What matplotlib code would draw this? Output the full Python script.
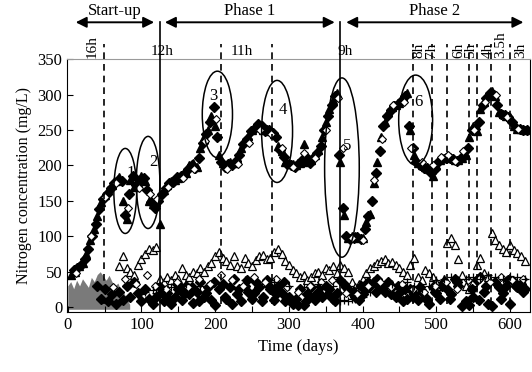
import numpy as np
import matplotlib as mpl
import matplotlib.pyplot as plt
from matplotlib.patches import Ellipse

mpl.rcParams.update({
    'font.family': 'Liberation Serif',
    'font.size': 12,
    'xtick.direction': 'in',
    'ytick.direction': 'in',
})

# ==== Data ====
# upper cluster, filled triangles
tri_up_days = [5, 10, 15, 20, 25, 30, 35, 40, 45, 50, 55, 60, 65, 70, 75, 80, 85, 90, 95, 100,
               105, 110, 115, 120, 125, 130, 135, 140, 145, 150, 155, 160, 165, 170, 175, 180,
               185, 190, 195, 200, 205, 210, 215, 220, 225, 230, 235, 240, 245, 250, 255, 260,
               265, 270, 275, 280, 285, 290, 295, 300, 305, 310, 315, 320, 325, 330, 335, 340,
               345, 350, 355, 360, 365, 370, 375, 380, 385, 390, 395, 400, 405, 410, 415, 420,
               425, 430, 435, 440, 445, 450, 455, 460, 465, 470, 475, 480, 485, 490, 495, 500,
               505, 510, 515, 520, 525, 530, 535, 540, 545, 550, 555, 560, 565, 570, 575, 580,
               585, 590, 595, 600, 605, 610, 615, 620]
tri_up_vals = [45, 50, 58, 62, 75, 95, 110, 128, 148, 158, 165, 172, 178, 183, 150, 125, 180, 170, 175, 185,
               178, 150, 145, 148, 118, 165, 172, 178, 180, 182, 186, 190, 200, 203, 198, 225,
               240, 250, 270, 255, 215, 203, 200, 205, 203, 210, 225, 235, 242, 250, 255, 256,
               250, 252, 248, 245, 228, 220, 205, 203, 202, 200, 203, 230, 205, 208, 215, 222,
               240, 262, 280, 292, 302, 205, 130, 98, 100, 100, 98, 97, 120, 132, 175, 205,
               240, 262, 275, 282, 285, 288, 295, 302, 250, 215, 203, 200, 198, 195, 185, 200,
               207, 210, 212, 210, 208, 207, 211, 215, 240, 255, 248, 280, 290, 300, 305, 298,
               275, 272, 270, 268, 255, 252, 251, 250]

# upper cluster, filled diamonds
dia_up_days = [8, 13, 18, 23, 28, 33, 38, 43, 48, 53, 58, 63, 68, 73, 78, 83, 88, 93, 98, 103,
               108, 113, 118, 123, 128, 133, 138, 143, 148, 153, 158, 163, 168, 173, 178, 183,
               188, 193, 198, 203, 208, 213, 218, 223, 228, 233, 238, 243, 248, 253, 258, 263,
               268, 273, 278, 283, 288, 293, 298, 303, 308, 313, 318, 323, 328, 333, 338, 343,
               348, 353, 358, 363, 368, 373, 378, 383, 388, 393, 398, 403, 408, 413, 418, 423,
               428, 433, 438, 443, 448, 453, 458, 463, 468, 473, 478, 483, 488, 493, 498, 503,
               508, 513, 518, 523, 528, 533, 538, 543, 548, 553, 558, 563, 568, 573, 578, 583,
               588, 593, 598, 603, 608, 613, 618, 623]
dia_up_vals = [52, 55, 60, 68, 82, 100, 118, 138, 152, 160, 168, 175, 180, 178, 130, 160, 185, 172, 180, 182,
               165, 148, 140, 150, 160, 168, 175, 176, 184, 185, 188, 195, 200, 196, 210, 232,
               245, 262, 282, 240, 205, 198, 202, 200, 206, 215, 230, 238, 248, 252, 258, 255,
               248, 250, 246, 240, 222, 212, 202, 200, 198, 202, 208, 212, 204, 210, 218, 228,
               250, 270, 285, 298, 215, 140, 100, 96, 98, 99, 96, 110, 128, 150, 190, 220,
               255, 270, 278, 284, 287, 292, 298, 255, 225, 205, 200, 196, 196, 190, 195, 205,
               209, 211, 210, 209, 206, 210, 213, 225, 250, 252, 262, 285, 295, 302, 300, 285,
               273, 271, 268, 262, 253, 251, 250, 250]

# upper cluster, open diamonds
odia_up_days = [11, 31, 51, 66, 82, 96, 111, 121, 136, 156, 171, 186, 201, 216, 231, 246, 261, 276, 291,
                306, 321, 336, 351, 366, 374, 386, 401, 416, 426, 441, 456, 466, 481, 496, 506, 516,
                526, 536, 551, 566, 581, 596, 611]
odia_up_vals = [48, 100, 155, 175, 140, 168, 160, 152, 170, 182, 195, 235, 265, 195, 202, 232, 250, 245, 225,
                198, 218, 210, 250, 295, 225, 98, 95, 180, 238, 285, 290, 225, 205, 200, 212, 215,
                206, 220, 250, 290, 300, 268, 252]

# gray area during start-up
gray_days = [0, 4, 8, 12, 16, 20, 24, 28, 32, 36, 40, 44, 48, 52, 56, 60, 64, 68, 72, 76, 80, 84]
gray_top = [30, 36, 26, 38, 30, 40, 34, 28, 42, 36, 46, 50, 44, 38, 45, 36, 30, 34, 24, 20, 12, 4]

# lower cluster, open triangles
tri_lo_days = [70, 75, 80, 85, 90, 95, 100, 105, 110, 115, 120, 125, 130, 135, 140, 145, 150, 155, 160,
               165, 170, 175, 180, 185, 190, 195, 200, 205, 210, 215, 220, 225, 230, 235, 240, 245,
               250, 255, 260, 265, 270, 275, 280, 285, 290, 295, 300, 305, 310, 315, 320, 325, 330,
               335, 340, 345, 350, 355, 360, 365, 370, 375, 380, 385, 390, 395, 400, 405, 410, 415,
               420, 425, 430, 435, 440, 445, 450, 455, 460, 465, 470, 475, 480, 485, 490, 495, 500,
               505, 510, 515, 520, 525, 530, 535, 540, 545, 550, 555, 560, 565, 570, 575, 580, 585,
               590, 595, 600, 605, 610, 615, 620]
tri_lo_vals = [58, 72, 55, 50, 45, 60, 68, 75, 82, 80, 85, 40, 35, 42, 38, 45, 40, 55, 45,
               42, 50, 48, 55, 50, 58, 62, 72, 78, 70, 65, 60, 72, 58, 55, 70, 62,
               58, 66, 72, 74, 68, 70, 78, 82, 75, 65, 60, 52, 48, 42, 45, 38, 42,
               48, 50, 45, 55, 52, 58, 48, 60, 55, 50, 35, 28, 32, 40, 48, 55, 58,
               62, 65, 68, 62, 64, 60, 55, 50, 45, 60, 70, 42, 38, 52, 48, 42, 35,
               30, 40, 90, 98, 88, 68, 45, 30, 25, 35, 60, 70, 48, 42, 105, 95, 88,
               82, 78, 88, 80, 76, 72, 65]

# lower cluster, filled diamonds
dia_lo_days = [40, 45, 50, 55, 60, 65, 70, 75, 80, 85, 90, 95, 100, 105, 110, 115, 120, 125, 130,
               135, 140, 145, 150, 155, 160, 165, 170, 175, 180, 185, 190, 195, 200, 205, 210, 215,
               220, 225, 230, 235, 240, 245, 250, 255, 260, 265, 270, 275, 280, 285, 290, 295, 300,
               305, 310, 315, 320, 325, 330, 335, 340, 345, 350, 355, 360, 365, 370, 375, 380, 385,
               390, 395, 400, 405, 410, 415, 420, 425, 430, 435, 440, 445, 450, 455, 460, 465, 470,
               475, 480, 485, 490, 495, 500, 505, 510, 515, 520, 525, 530, 535, 540, 545, 550, 555,
               560, 565, 570, 575, 580, 585, 590, 595, 600, 605, 610, 615, 620]
dia_lo_vals = [30, 12, 25, 8, 18, 5, 22, 10, 30, 15, 35, 20, 8, 25, 12, 5, 15, 28, 8,
               20, 4, 15, 25, 10, 30, 18, 6, 22, 35, 15, 28, 10, 3, 25, 32, 12,
               28, 40, 18, 8, 30, 22, 12, 35, 28, 15, 38, 25, 10, 30, 20, 8, 15,
               5, 12, 25, 3, 18, 28, 10, 22, 15, 30, 25, 12, 20, 38, 32, 25, 20,
               15, 10, 18, 25, 30, 35, 40, 30, 22, 35, 28, 15, 20, 8, 12, 25, 18,
               10, 22, 15, 5, 28, 20, 12, 35, 25, 18, 40, 30, 2, 8, 3, 15, 38,
               42, 22, 5, 2, 35, 28, 20, 30, 5, 35, 28, 32, 25]

# lower cluster, second set of filled diamonds (dense band)
dia_lo2_days = [128, 138, 148, 158, 168, 178, 188, 198, 213, 223, 233, 243, 253, 263, 273, 283, 293,
                303, 313, 323, 333, 343, 353, 363, 378, 388, 398, 408, 418, 428, 438, 448, 458,
                468, 478, 488, 498, 508, 518, 528, 548, 558, 568, 588, 598, 608, 618]
dia_lo2_vals = [22, 12, 32, 18, 28, 8, 20, 35, 15, 5, 25, 38, 20, 8, 30, 18, 35,
                10, 3, 8, 15, 30, 18, 8, 28, 22, 30, 35, 22, 28, 18, 30, 25,
                15, 28, 10, 22, 30, 12, 35, 25, 10, 30, 12, 38, 30, 22]

# lower cluster, open diamonds
odia_lo_days = [62, 78, 92, 108, 118, 133, 148, 163, 178, 193, 208, 223, 238, 253, 268, 283, 298,
                313, 328, 343, 358, 378, 393, 408, 423, 438, 453, 468, 483, 498, 513, 528, 543,
                558, 573, 588, 603, 618]
odia_lo_vals = [28, 40, 32, 45, 30, 25, 35, 28, 40, 32, 45, 38, 30, 42, 35, 40, 28,
                22, 30, 35, 38, 20, 18, 30, 35, 28, 32, 25, 22, 30, 35, 25, 38,
                40, 35, 42, 38, 40]

# lower cluster, plus signs
plus_days = [100, 105, 110, 115, 120, 125, 140, 160, 180, 200, 220, 240, 260, 280, 300, 320, 340,
             360, 370, 375, 380, 385, 390, 395, 400, 410, 420, 430, 440, 450, 460, 470, 480,
             490, 500, 510, 520, 530, 540, 550, 560, 570, 580, 590, 600, 610, 620]
plus_vals = [18, 22, 15, 24, 20, 25, 28, 32, 30, 35, 30, 38, 32, 35, 30, 28, 32,
             30, 8, 10, 9, 11, 12, 10, 14, 22, 28, 30, 32, 28, 35, 30, 25,
             30, 38, 40, 42, 38, 40, 42, 40, 45, 42, 40, 44, 42, 40]

# ==== Figure ====
fig = plt.figure(figsize=(5.32, 3.72), dpi=100)
ax = fig.add_axes([0.126, 0.161, 0.87, 0.68])

ax.fill_between(gray_days, -3, gray_top, color='#7a7a7a', lw=0, zorder=1)

ax.plot(tri_lo_days, tri_lo_vals, ls='none', marker='^', ms=6, mfc='white', mec='black', mew=0.9, zorder=3)
ax.plot(dia_lo_days, dia_lo_vals, ls='none', marker='D', ms=5, color='black', zorder=3)
ax.plot(dia_lo2_days, dia_lo2_vals, ls='none', marker='D', ms=5, color='black', zorder=3)
ax.plot(odia_lo_days, odia_lo_vals, ls='none', marker='D', ms=4.2, mfc='white', mec='black', mew=0.8, zorder=4)
ax.plot(plus_days, plus_vals, ls='none', marker='+', ms=6, color='black', mew=0.9, zorder=4)

ax.plot(tri_up_days, tri_up_vals, ls='none', marker='^', ms=6, color='black', zorder=3)
ax.plot(dia_up_days, dia_up_vals, ls='none', marker='D', ms=5, color='black', zorder=3)
ax.plot(odia_up_days, odia_up_vals, ls='none', marker='D', ms=4.2, mfc='white', mec='black', mew=0.8, zorder=4)

# ellipses around the transient events
ellipses = [(78, 164, 31, 120, '1', 86, 190), (109, 176, 32, 130, '2', 116, 205),
            (203, 272, 41, 122, '3', 197, 298), (284, 248, 42, 144, '4', 292, 278),
            (372, 197, 47, 253, '5', 379, 227), (472, 264, 46, 127, '6', 476, 290)]
for cx, cy, w, h, lab, tx, ty in ellipses:
    ax.add_patch(Ellipse((cx, cy), w, h, fill=False, ec='black', lw=1.1, zorder=5))
    ax.text(tx, ty, lab, ha='center', va='center', fontsize=12, zorder=6)

# phase boundaries
for d in [125, 370]:
    ax.plot([d, d], [-7, 402], color='black', lw=1.2, clip_on=False, zorder=6)

# HRT changes (dashed)
dash_days = [49, 208, 277, 468, 494, 514, 544, 555, 574, 600]
for d in dash_days:
    ax.plot([d, d], [5, 372], color='black', lw=1.2, ls=(0, (4, 3)), clip_on=False, zorder=6)

# HRT labels
ax.text(33, 352, '16h', rotation=90, ha='center', va='bottom', fontsize=11)
ax.text(128, 351, '12h', ha='center', va='bottom', fontsize=11)
ax.text(236, 351, '11h', ha='center', va='bottom', fontsize=11)
ax.text(376, 351, '9h', ha='center', va='bottom', fontsize=11)
for d, lab in [(476, '8h'), (493, '7h'), (530, '6h'), (546, '5h'), (571, '4h'), (587, '3.5h'), (615, '3h')]:
    ax.text(d, 352, lab, rotation=90, ha='center', va='bottom', fontsize=11)

# phase arrows
arrow_kw = dict(arrowstyle='<|-|>', color='black', lw=1.4, mutation_scale=16)
for x0, x1, lab in [(7, 121, 'Start-up'), (128, 366, 'Phase 1'), (374, 622, 'Phase 2')]:
    ax.annotate('', xy=(x1, 402), xytext=(x0, 402), arrowprops=arrow_kw, annotation_clip=False)
    ax.text((x0 + x1) / 2, 406, lab, ha='center', va='bottom', fontsize=12, clip_on=False)

ax.set_xlim(-1, 627)
ax.set_ylim(-7, 350)
ax.set_xticks([0, 100, 200, 300, 400, 500, 600])
ax.set_xticks(np.arange(0, 627, 50), minor=True)
ax.set_yticks([0, 50, 100, 150, 200, 250, 300, 350])
ax.tick_params(axis='both', which='both', length=4, width=0.8, labelsize=12)
ax.tick_params(axis='x', which='minor', labelbottom=False)
ax.spines['top'].set_color('#9a9a9a')
ax.spines['top'].set_linewidth(0.8)
ax.spines['right'].set_linewidth(0.8)
ax.set_xlabel('Time (days)', fontsize=12)
ax.set_ylabel('Nitrogen concentration (mg/L)', fontsize=11.5)

fig.savefig('out.png', dpi=100)
